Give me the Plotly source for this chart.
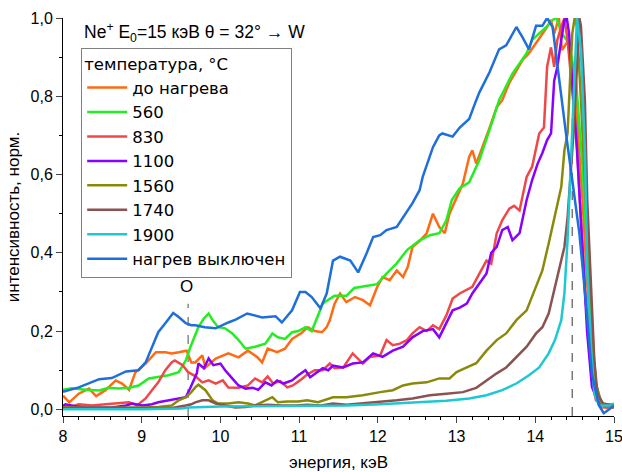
import plotly.graph_objects as go

# ---------------- data ----------------
names = ["до нагрева", "560", "830", "1100", "1560", "1740", "1900", "нагрев выключен"]
colors = ["#ff6a13", "#22ee22", "#f04848", "#8a00ff", "#8a8a0a", "#8b5350", "#1ec8d2", "#1e6fdc"]

x_before = [8.0, 8.08, 8.2, 8.33, 8.42, 8.54, 8.67, 8.75, 8.84, 8.92, 9.05, 9.18, 9.3, 9.38, 9.47, 9.57, 9.63, 9.68, 9.77, 9.81, 9.94, 10.1, 10.23, 10.35, 10.47, 10.53, 10.6, 10.72, 10.82, 10.91, 11.03, 11.11, 11.2, 11.29, 11.35, 11.39, 11.45, 11.52, 11.6, 11.71, 11.81, 11.9, 11.99, 12.06, 12.15, 12.24, 12.32, 12.38, 12.44, 12.53, 12.62, 12.7, 12.78, 12.85, 12.91, 13.0, 13.08, 13.16, 13.2, 13.25, 13.33, 13.42, 13.51, 13.58, 13.67, 13.76, 13.84, 13.92, 14.01, 14.09, 14.15, 14.2, 14.24, 14.3, 14.34, 14.41, 14.47, 14.53, 14.6, 14.66, 14.71, 14.75, 14.84, 14.97, 15.0]
y_before = [0.035, 0.018, 0.04, 0.053, 0.034, 0.049, 0.074, 0.066, 0.05, 0.095, 0.117, 0.146, 0.146, 0.143, 0.146, 0.15, 0.12, 0.12, 0.138, 0.107, 0.13, 0.143, 0.133, 0.15, 0.133, 0.12, 0.155, 0.146, 0.155, 0.18, 0.195, 0.21, 0.20, 0.197, 0.21, 0.228, 0.27, 0.296, 0.274, 0.287, 0.279, 0.266, 0.312, 0.338, 0.33, 0.355, 0.338, 0.364, 0.415, 0.43, 0.45, 0.50, 0.466, 0.45, 0.50, 0.543, 0.577, 0.645, 0.662, 0.628, 0.67, 0.72, 0.772, 0.79, 0.834, 0.867, 0.893, 0.91, 0.935, 0.96, 0.977, 0.995, 0.96, 1.0, 0.918, 0.94, 0.875, 0.747, 0.535, 0.32, 0.15, 0.04, 0.005, 0.005, 0.005]

x_560 = [8.0, 8.11, 8.29, 8.46, 8.58, 8.71, 8.84, 8.96, 9.09, 9.21, 9.34, 9.47, 9.56, 9.62, 9.68, 9.72, 9.79, 9.85, 9.9, 9.97, 10.06, 10.15, 10.23, 10.32, 10.44, 10.57, 10.66, 10.73, 10.82, 10.91, 10.99, 11.08, 11.16, 11.23, 11.3, 11.37, 11.45, 11.6, 11.7, 11.85, 11.99, 12.11, 12.24, 12.37, 12.53, 12.66, 12.78, 12.87, 12.94, 13.04, 13.16, 13.29, 13.38, 13.46, 13.54, 13.63, 13.71, 13.8, 13.89, 13.96, 14.05, 14.14, 14.22, 14.27, 14.34, 14.43, 14.52, 14.6, 14.66, 14.72, 14.77, 14.84, 14.94, 15.0]
y_560 = [0.05, 0.054, 0.05, 0.048, 0.055, 0.053, 0.055, 0.061, 0.079, 0.083, 0.087, 0.095, 0.125, 0.16, 0.19, 0.21, 0.232, 0.245, 0.228, 0.21, 0.207, 0.194, 0.177, 0.155, 0.16, 0.168, 0.194, 0.184, 0.18, 0.197, 0.20, 0.21, 0.20, 0.235, 0.27, 0.28, 0.29, 0.29, 0.31, 0.315, 0.32, 0.347, 0.373, 0.407, 0.432, 0.445, 0.45, 0.483, 0.535, 0.565, 0.58, 0.637, 0.688, 0.739, 0.79, 0.824, 0.858, 0.884, 0.91, 0.944, 0.96, 0.977, 0.995, 1.0, 0.96, 0.935, 0.834, 0.62, 0.407, 0.194, 0.066, 0.015, 0.01, 0.015]

x_830 = [8.0, 8.08, 8.2, 8.37, 8.54, 8.71, 8.84, 8.94, 9.05, 9.13, 9.21, 9.3, 9.38, 9.42, 9.52, 9.59, 9.68, 9.77, 9.85, 9.94, 10.03, 10.1, 10.23, 10.35, 10.44, 10.53, 10.6, 10.67, 10.76, 10.85, 10.92, 11.01, 11.11, 11.2, 11.3, 11.39, 11.45, 11.56, 11.68, 11.81, 11.9, 12.03, 12.11, 12.19, 12.28, 12.37, 12.44, 12.53, 12.62, 12.7, 12.78, 12.87, 12.95, 13.04, 13.13, 13.2, 13.29, 13.38, 13.44, 13.51, 13.58, 13.67, 13.73, 13.8, 13.89, 13.96, 14.05, 14.11, 14.15, 14.2, 14.24, 14.28, 14.33, 14.37, 14.41, 14.46, 14.52, 14.58, 14.64, 14.71, 14.77, 14.9, 15.0]
y_830 = [0.01, 0.005, 0.013, 0.01, 0.013, 0.015, 0.018, 0.01, 0.028, 0.049, 0.069, 0.10, 0.12, 0.125, 0.113, 0.095, 0.085, 0.069, 0.074, 0.066, 0.074, 0.056, 0.055, 0.061, 0.079, 0.069, 0.084, 0.066, 0.072, 0.056, 0.061, 0.074, 0.09, 0.10, 0.10, 0.117, 0.105, 0.107, 0.143, 0.117, 0.134, 0.138, 0.177, 0.164, 0.168, 0.177, 0.194, 0.21, 0.2, 0.215, 0.205, 0.24, 0.283, 0.296, 0.305, 0.313, 0.347, 0.38, 0.372, 0.45, 0.483, 0.513, 0.52, 0.508, 0.594, 0.62, 0.705, 0.72, 0.875, 0.925, 0.875, 0.944, 0.977, 1.0, 0.944, 0.834, 0.705, 0.49, 0.28, 0.092, 0.023, 0.005, 0.005]

x_1100 = [8.0, 8.03, 8.16, 8.29, 8.46, 8.62, 8.8, 8.88, 9.01, 9.13, 9.21, 9.34, 9.47, 9.56, 9.62, 9.66, 9.7, 9.72, 9.79, 9.85, 9.91, 10.0, 10.06, 10.15, 10.23, 10.32, 10.41, 10.48, 10.57, 10.65, 10.72, 10.8, 10.91, 10.99, 11.08, 11.14, 11.23, 11.3, 11.37, 11.43, 11.56, 11.68, 11.81, 11.94, 12.06, 12.19, 12.32, 12.44, 12.57, 12.7, 12.78, 12.87, 12.95, 13.04, 13.13, 13.2, 13.29, 13.38, 13.44, 13.51, 13.58, 13.65, 13.71, 13.8, 13.89, 13.96, 14.03, 14.09, 14.15, 14.2, 14.24, 14.28, 14.33, 14.37, 14.4, 14.43, 14.47, 14.53, 14.6, 14.66, 14.72, 14.81, 15.0]
y_1100 = [0.008, 0.013, 0.008, 0.005, 0.005, 0.005, 0.01, 0.015, 0.01, 0.013, 0.018, 0.023, 0.028, 0.031, 0.056, 0.074, 0.092, 0.117, 0.105, 0.13, 0.113, 0.117, 0.10, 0.079, 0.061, 0.053, 0.055, 0.05, 0.069, 0.061, 0.074, 0.066, 0.074, 0.087, 0.10, 0.082, 0.095, 0.105, 0.10, 0.112, 0.107, 0.117, 0.12, 0.143, 0.134, 0.15, 0.16, 0.184, 0.2, 0.205, 0.184, 0.22, 0.253, 0.26, 0.27, 0.296, 0.322, 0.347, 0.40, 0.415, 0.458, 0.466, 0.432, 0.45, 0.535, 0.586, 0.628, 0.655, 0.688, 0.705, 0.84, 0.875, 0.944, 0.995, 1.0, 0.96, 0.834, 0.662, 0.407, 0.194, 0.057, 0.013, 0.01]

x_1560 = [8.0, 8.5, 9.0, 9.21, 9.38, 9.47, 9.56, 9.63, 9.68, 9.72, 9.81, 9.9, 9.97, 10.1, 10.23, 10.35, 10.44, 10.53, 10.66, 10.73, 10.85, 10.99, 11.1, 11.24, 11.37, 11.43, 11.6, 11.81, 12.03, 12.19, 12.32, 12.44, 12.62, 12.78, 12.91, 13.0, 13.13, 13.25, 13.38, 13.51, 13.63, 13.76, 13.89, 14.01, 14.09, 14.17, 14.25, 14.33, 14.37, 14.41, 14.44, 14.47, 14.5, 14.53, 14.58, 14.63, 14.68, 14.72, 14.77, 14.84, 15.0]
y_1560 = [0.005, 0.004, 0.005, 0.006, 0.01, 0.023, 0.031, 0.044, 0.056, 0.063, 0.049, 0.023, 0.015, 0.015, 0.018, 0.015, 0.01, 0.018, 0.031, 0.018, 0.02, 0.02, 0.023, 0.018, 0.028, 0.031, 0.031, 0.036, 0.044, 0.049, 0.061, 0.066, 0.069, 0.079, 0.079, 0.095, 0.107, 0.118, 0.15, 0.177, 0.194, 0.228, 0.253, 0.312, 0.355, 0.424, 0.50, 0.568, 0.662, 0.705, 0.834, 0.96, 1.0, 0.977, 0.79, 0.577, 0.364, 0.194, 0.066, 0.015, 0.01]

x_1740 = [8.0, 8.5, 9.0, 9.4, 9.56, 9.63, 9.68, 9.77, 9.85, 9.94, 10.06, 10.19, 10.32, 10.44, 10.6, 10.78, 10.96, 11.1, 11.28, 11.43, 11.6, 11.8, 12.03, 12.24, 12.44, 12.66, 12.87, 13.08, 13.25, 13.38, 13.51, 13.63, 13.76, 13.89, 14.01, 14.09, 14.17, 14.25, 14.33, 14.37, 14.41, 14.46, 14.49, 14.53, 14.56, 14.58, 14.63, 14.66, 14.71, 14.75, 14.79, 14.86, 15.0]
y_1740 = [0.003, 0.003, 0.003, 0.004, 0.01, 0.013, 0.018, 0.023, 0.023, 0.015, 0.01, 0.005, 0.006, 0.01, 0.012, 0.01, 0.01, 0.012, 0.01, 0.015, 0.012, 0.015, 0.018, 0.023, 0.028, 0.036, 0.04, 0.044, 0.055, 0.074, 0.092, 0.107, 0.134, 0.16, 0.194, 0.21, 0.245, 0.312, 0.38, 0.415, 0.49, 0.62, 0.72, 0.875, 1.0, 0.98, 0.79, 0.535, 0.296, 0.125, 0.04, 0.015, 0.01]

x_1900 = [8.0, 9.0, 9.5, 9.6, 10.0, 10.5, 11.0, 11.6, 12.03, 12.44, 12.87, 13.16, 13.38, 13.58, 13.76, 13.92, 14.05, 14.17, 14.25, 14.33, 14.37, 14.41, 14.44, 14.47, 14.51, 14.53, 14.58, 14.63, 14.66, 14.71, 14.75, 14.81, 15.0]
y_1900 = [0.0, 0.0, 0.002, 0.005, 0.007, 0.008, 0.009, 0.01, 0.013, 0.017, 0.022, 0.028, 0.036, 0.049, 0.066, 0.087, 0.107, 0.143, 0.177, 0.228, 0.296, 0.432, 0.568, 0.747, 0.918, 1.0, 0.918, 0.66, 0.36, 0.15, 0.04, 0.01, 0.01]

x_off = [8.0, 8.2, 8.46, 8.62, 8.8, 8.96, 9.05, 9.13, 9.21, 9.3, 9.4, 9.47, 9.56, 9.63, 9.68, 9.8, 9.94, 10.1, 10.2, 10.34, 10.45, 10.53, 10.7, 10.78, 10.91, 11.01, 11.08, 11.16, 11.27, 11.35, 11.43, 11.52, 11.65, 11.75, 11.86, 11.94, 12.03, 12.11, 12.24, 12.32, 12.44, 12.53, 12.57, 12.7, 12.78, 12.82, 12.95, 13.04, 13.16, 13.25, 13.29, 13.42, 13.54, 13.63, 13.76, 13.84, 13.92, 14.01, 14.09, 14.15, 14.22, 14.39, 14.56, 14.64, 14.72, 14.81, 14.87, 14.94, 15.0]
y_off = [0.045, 0.056, 0.077, 0.08, 0.097, 0.10, 0.12, 0.16, 0.197, 0.22, 0.246, 0.236, 0.22, 0.215, 0.215, 0.21, 0.207, 0.222, 0.23, 0.245, 0.24, 0.235, 0.238, 0.222, 0.253, 0.30, 0.30, 0.287, 0.258, 0.296, 0.38, 0.39, 0.38, 0.35, 0.40, 0.44, 0.445, 0.458, 0.466, 0.49, 0.527, 0.56, 0.594, 0.67, 0.70, 0.705, 0.697, 0.72, 0.742, 0.79, 0.81, 0.862, 0.92, 0.93, 0.977, 0.95, 0.92, 0.98, 0.98, 1.0, 0.977, 0.705, 0.45, 0.28, 0.09, 0.01, -0.01, 0.0, 0.01]

series_x = [x_before, x_560, x_830, x_1100, x_1560, x_1740, x_1900, x_off]
series_y = [y_before, y_560, y_830, y_1100, y_1560, y_1740, y_1900, y_off]

x_ticks = [8, 9, 10, 11, 12, 13, 14, 15]
y_ticks = [0.0, 0.2, 0.4, 0.6, 0.8, 1.0]
y_min = -0.017
o_line_x = 9.59
o_line_top = 0.27
w_line_x = 14.47
w_line_top = 0.75

FONT = "Liberation Sans, Arial, sans-serif"
LEG_FONT = "DejaVu Sans, Liberation Sans, sans-serif"

fig = go.Figure()
for nm, c, xs, ys in zip(names, colors, series_x, series_y):
    fig.add_trace(go.Scatter(x=xs, y=ys, mode="lines", name=nm,
                             line=dict(color=c, width=2.5)))

fig.add_shape(type="line", x0=o_line_x, x1=o_line_x, y0=y_min, y1=o_line_top,
              line=dict(color="#888888", width=1.5, dash="dash"), layer="below")
fig.add_shape(type="line", x0=w_line_x, x1=w_line_x, y0=y_min, y1=w_line_top,
              line=dict(color="#777777", width=1.5, dash="dash"), layer="below")

fig.add_annotation(x=9.57, y=0.315, text="O", showarrow=False,
                   font=dict(size=17, color="black", family=FONT))
fig.add_annotation(xref="paper", yref="paper", x=0.035, y=0.963, xanchor="left", yanchor="middle",
                   text="Ne<sup>+</sup> E<sub>0</sub>=15 кэВ θ = 32° → W", showarrow=False,
                   font=dict(size=17.5, color="black", family=FONT))

fig.update_layout(
    width=622, height=472,
    margin=dict(l=63, r=8, t=18, b=56),
    paper_bgcolor="white", plot_bgcolor="white",
    separators=", ",
    font=dict(family=FONT, size=16, color="black"),
    legend=dict(x=0.033, y=0.925, xanchor="left", yanchor="top",
                bordercolor="#808080", borderwidth=1, bgcolor="white",
                title=dict(text="температура, °C", font=dict(size=16.5, family=LEG_FONT)),
                font=dict(size=16.5, family=LEG_FONT), tracegroupgap=0, itemwidth=40),
    showlegend=True,
)
fig.update_xaxes(range=[8, 15], tickvals=x_ticks, ticks="outside", ticklen=6, automargin=False,
                 ticklabeloverflow="allow",
                 showline=True, linecolor="black", linewidth=1, showgrid=False, zeroline=False,
                 minor=dict(dtick=0.2, ticks="outside", ticklen=3, tickcolor="black"),
                 title=dict(text="энергия, кэВ", font=dict(size=17), standoff=14),
                 tickfont=dict(size=16))
fig.update_yaxes(range=[y_min, 1.0], tickvals=y_ticks, tickformat=".1f", ticks="outside", ticklen=6,
                 automargin=False, ticklabeloverflow="allow",
                 showline=True, linecolor="black", linewidth=1, showgrid=False, zeroline=False,
                 minor=dict(dtick=0.1, ticks="outside", ticklen=3, tickcolor="black"),
                 title=dict(text="интенсивность, норм.", font=dict(size=17), standoff=6),
                 tickfont=dict(size=16))

# remove the browser's default 8px body margin so the figure fills the window exactly
fig.write_html("out.html", config={"displayModeBar": False},
               post_script="document.body.style.margin='0px';")
